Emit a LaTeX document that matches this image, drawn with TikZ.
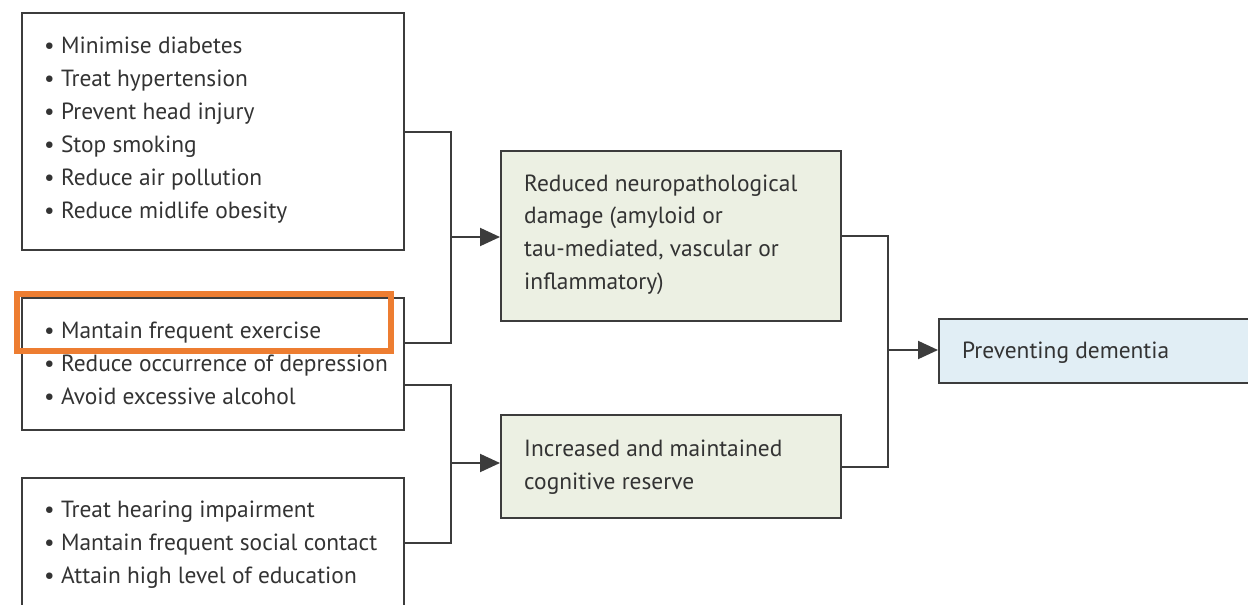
\documentclass[tikz,border=0pt]{standalone}
\usepackage{fontspec}
\setmainfont{PT Sans}
\usetikzlibrary{arrows.meta}
\definecolor{linec}{HTML}{3C3C3C}
\definecolor{textc}{HTML}{333333}
\definecolor{greenf}{HTML}{ECF0E3}
\definecolor{bluef}{HTML}{E1EEF5}
\definecolor{orangec}{HTML}{ED7D31}
\begin{document}
\begin{tikzpicture}[x=1pt,y=-1pt,
  box/.style={draw=linec,line width=2pt,anchor=north west,inner sep=0pt},
  item/.style={anchor=base west,inner sep=0pt,text=textc,font=\fontsize{23.4}{28}\selectfont},
  conn/.style={draw=linec,line width=2pt},
  arr/.style={draw=linec,line width=2pt,-{Triangle[length=20pt,width=18pt]}}]
\useasboundingbox (0,0) rectangle (1248,605);
\fill[white] (0,0) rectangle (1248,605);
% boxes
\node[box,minimum width=382pt,minimum height=237pt] (A) at (21,12) {};
\node[box,minimum width=382pt,minimum height=132pt] (B) at (21,297) {};
\node[box,minimum width=382pt,minimum height=130pt] (C) at (21,477) {};
\node[box,fill=greenf,minimum width=340pt,minimum height=170pt] (G1) at (500,150) {};
\node[box,fill=greenf,minimum width=340pt,minimum height=103pt] (G2) at (500,414) {};
\node[box,fill=bluef,minimum width=320pt,minimum height=64pt] (D) at (938,318) {};
% texts
\foreach \t [count=\i] in {Minimise diabetes,Treat hypertension,Prevent head injury,Stop smoking,Reduce air pollution,Reduce midlife obesity}
  \node[item] (a\i) at (44,20+33*\i) {\textbullet\ \t};
\foreach \t [count=\i] in {Mantain frequent exercise,Reduce occurrence of depression,Avoid excessive alcohol}
  \node[item] (b\i) at (44,305+33*\i) {\textbullet\ \t};
\foreach \t [count=\i] in {Treat hearing impairment,Mantain frequent social contact,Attain high level of education}
  \node[item] (c\i) at (44,484+33*\i) {\textbullet\ \t};
\foreach \t [count=\i] in {Reduced neuropathological,damage (amyloid or,{tau-mediated, vascular or},inflammatory)}
  \node[item] (g\i) at (524,158.5+32.7*\i) {\t};
\foreach \t [count=\i] in {Increased and maintained,cognitive reserve}
  \node[item] (h\i) at (524,423+33*\i) {\t};
\node[item] (d1) at (962,358) {Preventing dementia};
% connectors
\coordinate (m1) at (451,237);
\coordinate (m2) at (451,463);
\coordinate (m3) at (888,350);
\draw[conn] (A.east) -| (m1) |- ([yshift=21pt]B.east);
\draw[arr] (m1) -- (m1 -| G1.west);
\draw[conn] ([yshift=-21pt]B.east) -| (m2) |- (C.east);
\draw[arr] (m2) -- (m2 -| G2.west);
\draw[conn] (G1.east) -| (m3) |- (G2.east);
\draw[arr] (m3) -- (m3 -| D.west);
% highlight
\node[draw=orangec,line width=6pt,anchor=north west,inner sep=0pt,minimum width=374pt,minimum height=57pt] (hl) at (14,291) {};
\end{tikzpicture}
\end{document}
